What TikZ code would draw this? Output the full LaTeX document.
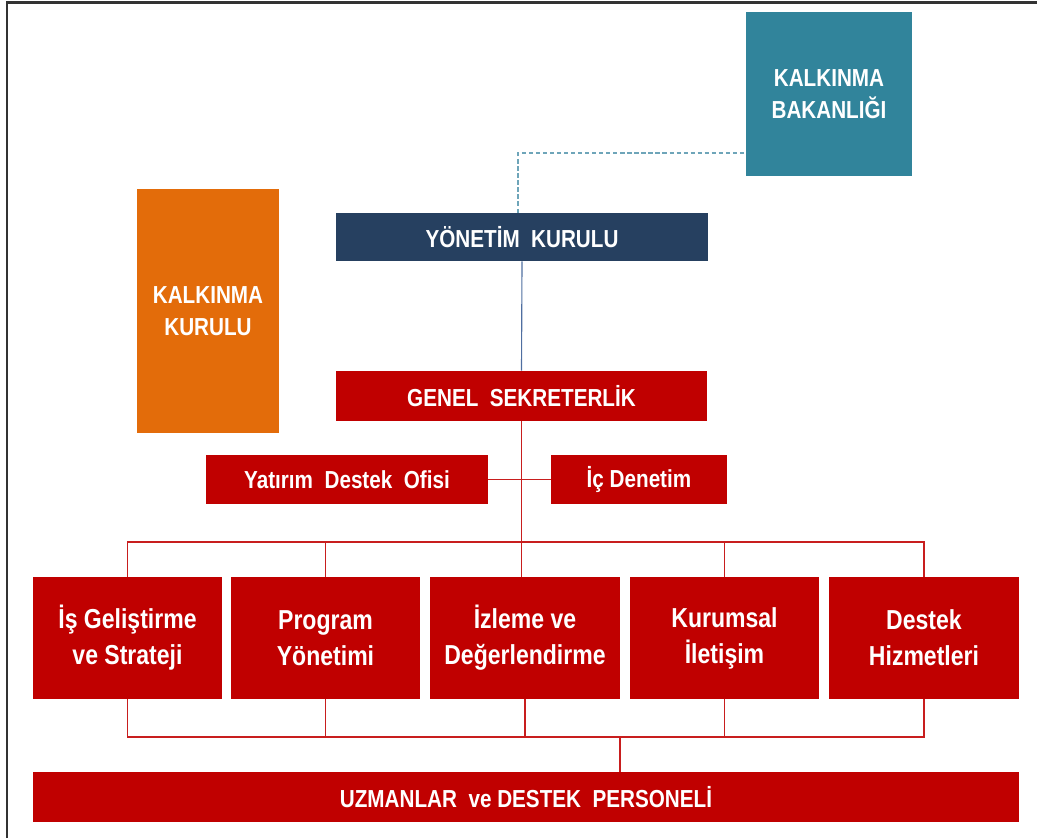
\documentclass[tikz,border=0pt]{standalone}
\usepackage{fontspec}
\setmainfont{Liberation Sans}[FakeStretch=0.84]
\usetikzlibrary{calc,positioning}
\definecolor{kred}{RGB}{192,0,0}
\definecolor{knavy}{RGB}{38,64,96}
\definecolor{kteal}{RGB}{49,132,155}
\definecolor{korange}{RGB}{227,108,10}
\definecolor{kblue}{RGB}{79,110,160}
\definecolor{kdash}{RGB}{110,165,185}
\definecolor{klink}{RGB}{200,30,30}

\begin{document}
\begin{tikzpicture}[x=0.025cm,y=-0.025cm,
		box/.style={rectangle,inner sep=0pt,text=white,align=center,font=\bfseries\fontsize{17.5}{23}\selectfont},
		unitbox/.style={box,fill=kred,minimum width=4.725cm,minimum height=3.05cm,font=\bfseries\fontsize{19.5}{25.6}\selectfont},
		link/.style={klink,line width=1pt},
		dashlink/.style={kdash,line width=1.3pt,dash pattern=on 3pt off 2pt}]
		\useasboundingbox (0,0) rectangle (1037,838);
		\draw[black!80,line width=2pt] (7,838) -- (7,2.5) -- (1037,2.5);
		\node[box,fill=kteal,minimum width=4.15cm,minimum height=4.1cm] (bak) at (829,94) {KALKINMA\\BAKANLIĞI};
		\node[box,fill=korange,minimum width=3.55cm,minimum height=6.1cm] (kk) at (208,311) {KALKINMA\\KURULU};
		\node[box,fill=knavy,minimum width=9.3cm,minimum height=1.2cm] (yk) at (522,237) {YÖNETİM~ KURULU};
		\node[box,fill=kred,minimum width=9.275cm,minimum height=1.25cm] (gs) at (521.5,396) {GENEL~ SEKRETERLİK};
		\node[box,fill=kred,minimum width=7.05cm,minimum height=1.225cm] (ydo) at (347,479.5) {Yatırım~ Destek~ Ofisi};
		\node[box,fill=kred,minimum width=4.4cm,minimum height=1.225cm] (icd) at (639,479.5) {İç Denetim};
		\node[unitbox] (b1) at (127.5,638) {İş Geliştirme\\ve Strateji};
		\node[unitbox] (b2) at (325.5,638) {Program\\Yönetimi};
		\node[unitbox] (b3) at (525,638) {İzleme ve\\Değerlendirme};
		\node[unitbox] (b4) at (724.5,638) {Kurumsal\\İletişim};
		\node[unitbox] (b5) at (924,638) {Destek\\Hizmetleri};
		\node[box,fill=kred,minimum width=24.65cm,minimum height=1.25cm] (uz) at (526,797) {UZMANLAR~ ve DESTEK~ PERSONELİ};
		\draw[dashlink] ([xshift=-0.1cm]yk.north) |- ($(bak.south west)+(0,-23)$);
		\draw[kblue,line width=0.8pt] (yk.south) -- (gs.north);
		\draw[link] (gs.south) -- (gs.south |- b3.north);
		\draw[link] (ydo.east) -- (icd.west);
		\coordinate (top) at (521.5,542);
		\coordinate (bot) at (620,737);
		\foreach \b in {b1,b2,b4,b5}
			\draw[link] (\b.north) |- (top);
		\foreach \b in {b1,b2,b3,b4,b5}
			\draw[link] (\b.south) |- (bot);
		\draw[link] (bot) -- (bot |- uz.north);
\end{tikzpicture}
\end{document}
